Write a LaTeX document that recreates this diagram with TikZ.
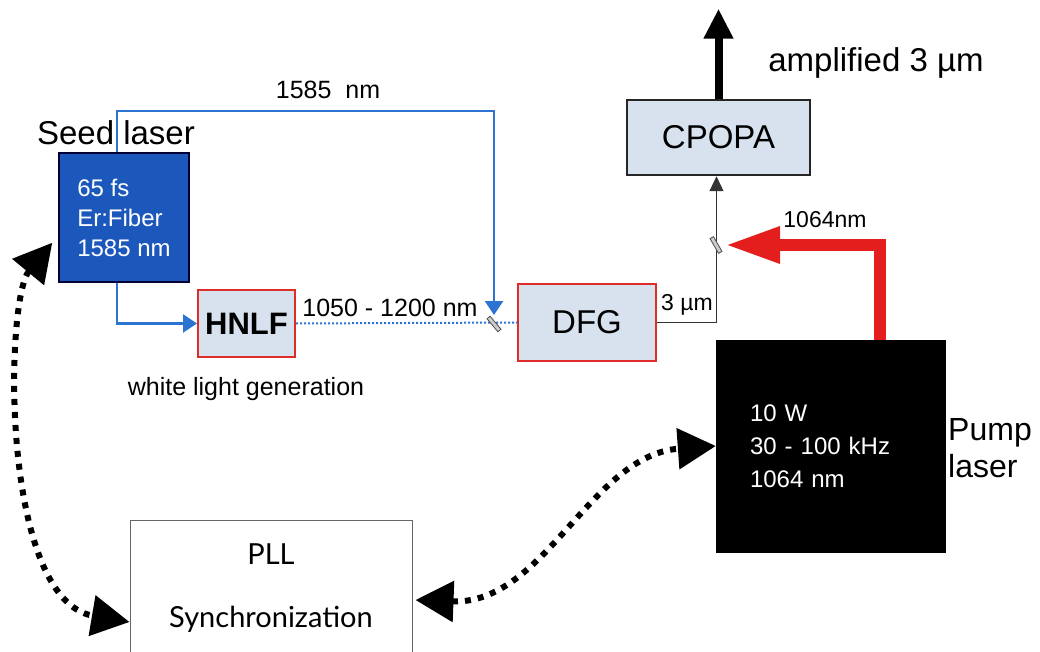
\documentclass[tikz,border=0pt]{standalone}
\usepackage{fontspec}
\setmainfont{Liberation Sans}
\newfontfamily\pllfont{Lato}
\usetikzlibrary{arrows.meta,calc}
\definecolor{seedblue}{RGB}{28,88,188}
\definecolor{beamblue}{RGB}{45,115,210}
\definecolor{boxgrey}{RGB}{216,226,238}
\definecolor{boxred}{RGB}{222,45,40}
\definecolor{pumpred}{RGB}{228,30,28}
\newcommand{\setfs}[2]{\fontsize{#1}{#2}\selectfont}
\begin{document}
\begin{tikzpicture}[x=1pt,y=-1pt,
    box/.style={draw=boxred,line width=2pt,fill=boxgrey,inner sep=0pt},
    beam/.style={beamblue,line width=2.5pt,-{Triangle[length=14pt,width=18pt]}},
    mirror/.style={draw=black!70,fill=black!20,line width=0.8pt,minimum width=17pt,minimum height=4pt,inner sep=0pt},
    sync/.style={line width=6pt,dash pattern=on 6pt off 7pt,{Triangle[length=38pt,width=40pt]}-{Triangle[length=38pt,width=40pt]}}]
    \useasboundingbox (0,0) rectangle (1040,652);
    \clip (0,0) rectangle (1040,652);
    % boxes
    \node[draw=black!80!blue,line width=1.5pt,fill=seedblue,text=white,minimum height=129pt,minimum width=130pt,align=left,font=\setfs{24}{30}] (seed) at (124,217.5) {65 fs\\Er:Fiber\\1585 nm};
    \node[box,minimum width=97pt,minimum height=67pt,font=\bfseries\setfs{31}{31}] (hnlf) at (246.5,323.5) {HNLF};
    \node[box,minimum width=138pt,minimum height=77pt,font=\setfs{33}{33}] (dfg) at (587,322.5) {DFG};
    \node[box,draw=black!85,line width=2.5pt,minimum width=183pt,minimum height=75pt,font=\setfs{33}{33}] (cpopa) at (718.5,137.5) {CPOPA};
    \node[fill=black,draw=black,text=white,minimum height=212pt,text width=161pt,inner xsep=34pt,align=left,font=\setfs{24}{33}] (pump) at (830.5,446) {10 W\\30 - 100 kHz\\1064 nm};
    \node[draw=black!60,line width=1pt,fill=white,minimum width=282pt,minimum height=136pt,align=center,font=\pllfont\setfs{29}{63}] (pll) at (271,588) {PLL\\Synchronization};
    \coordinate (c1) at (494,324);
    \coordinate (c2) at (716,245);
    % labels
    \node[font=\setfs{33}{33}] (seedlbl) at (116,133) {Seed laser};
    \node[font=\setfs{25}{25}] (toplbl) at (328,90) {1585\ \ nm};
    \node[font=\setfs{25}{25}] (wlbl) at (390,308) {1050 - 1200 nm};
    \node[font=\setfs{25}{25}] (wlg) at (246,389) {white light generation};
    \node[font=\setfs{23}{23}] (dfgout) at (687,305) {3 µm};
    \node[font=\setfs{23}{23}] (pumplbl) at (825,220) {1064nm};
    \node[font=\setfs{33}{33}] (outlbl) at (876,63) {amplified 3 µm};
    \node[font=\setfs{32}{37},align=left,anchor=west,inner sep=0pt] (pumpname) at (948,448) {Pump\\laser};
    % beams
    \draw[beam,shorten >=9pt] ([xshift=-7pt]seed.north) -- ++(0,-41) -| (c1);
    \draw[beam] ([xshift=-7pt]seed.south) |- (hnlf.west);
    \draw[beamblue,line width=2pt,dash pattern=on 2pt off 2pt] (hnlf.east) -- (dfg.west);
    \draw[line width=1.2pt,black!80,-{Triangle[length=15pt,width=14pt]}] (dfg.east) -| ([xshift=-2pt]cpopa.south);
    \draw[pumpred,line width=12pt,-{Triangle[length=55pt,width=34pt]}] ([xshift=49.5pt]pump.north) |- ([xshift=9pt]c2);
    \draw[line width=8pt,-{Triangle[length=30pt,width=28pt]}] (cpopa.north) -- ++(0,-90);
    % mirrors
    \node[mirror,rotate=-50] (m1) at (c1) {};
    \node[mirror,rotate=-60] (m2) at (c2) {};
    % synchronization
    \draw[sync] ($(seed.south west)+(-6,-40)$) .. controls (5,300) and (0,600) .. ($(pll.west)+(0,34)$);
    \draw[sync] ($(pll.east)+(3,12)$) .. controls (545,605) and (590,455) .. (pump.west);
\end{tikzpicture}
\end{document}
